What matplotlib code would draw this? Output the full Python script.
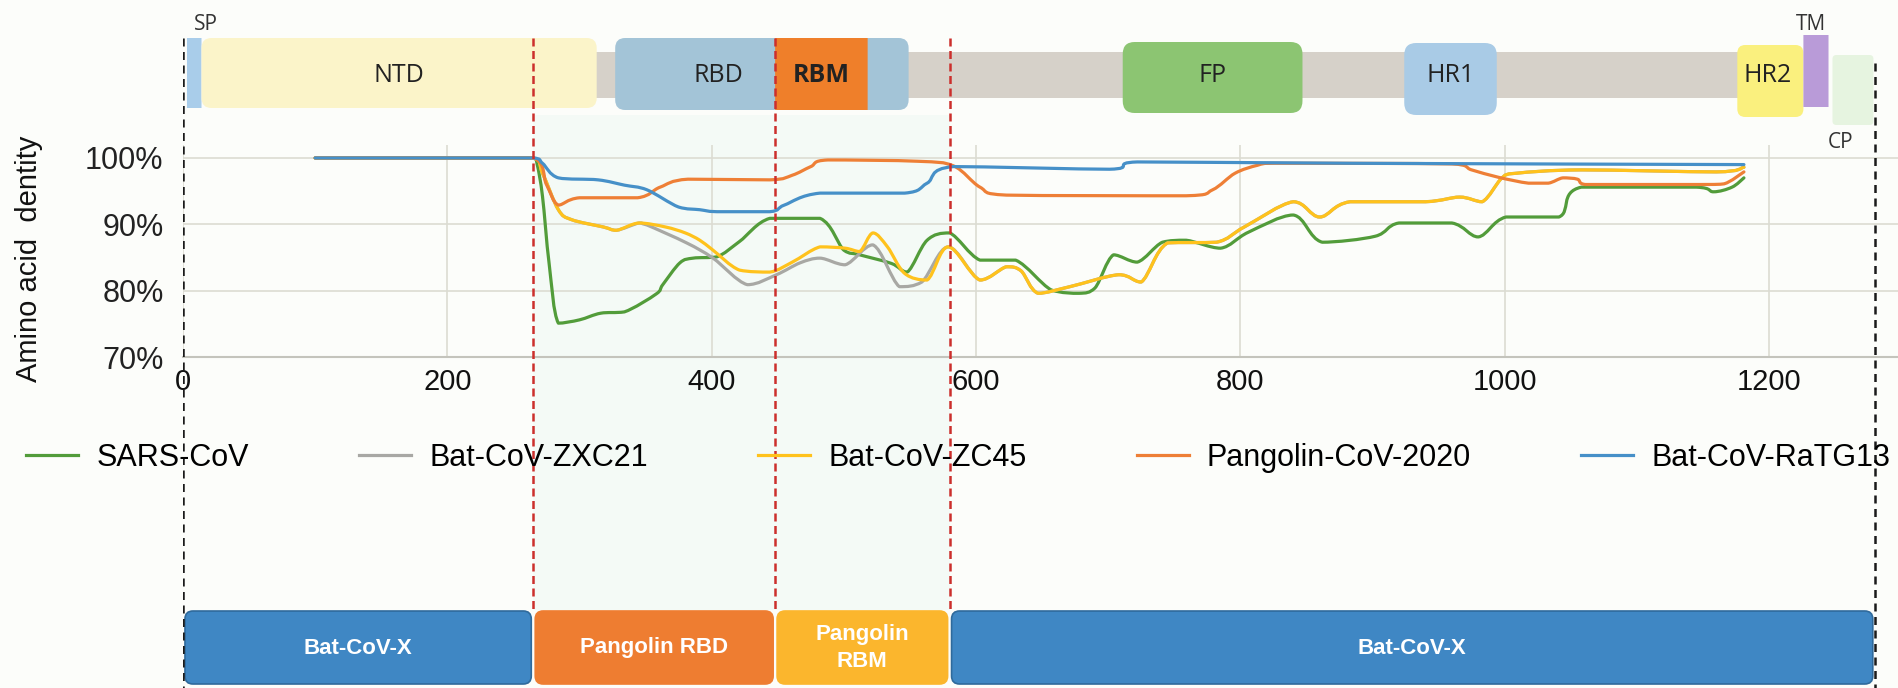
import matplotlib.pyplot as plt
from matplotlib.patches import FancyBboxPatch, Rectangle, PathPatch
from matplotlib.path import Path
from matplotlib.lines import Line2D

# ---- identity curves along the spike protein (residue position, % identity) ----
sars_x = [100, 265, 268, 272, 277, 284, 300, 316, 334, 358, 363, 376, 386, 404, 421, 444, 482, 500,
          512, 536, 548, 563, 580, 603, 630, 657, 678, 690, 704, 722, 741, 759, 785, 806, 840, 862,
          902, 920, 960, 980, 1001, 1041, 1058, 1145, 1158, 1172, 1181]
sars_y = [100, 100, 99, 94.2, 84.1, 75.1, 75.6, 76.6, 76.8, 79.5, 80.9, 84.2, 84.9, 85.1, 87.4, 90.9,
          90.9, 86.1, 85.4, 84.1, 82.8, 87.6, 88.7, 84.6, 84.6, 80.1, 79.6, 80.4, 85.4, 84.3, 87.3,
          87.6, 86.4, 88.8, 91.4, 87.3, 88.2, 90.2, 90.2, 88.1, 91.1, 91.1, 95.6, 95.6, 94.9, 95.6, 97]

zxc21_x = [100, 265, 272, 284, 294, 318, 328, 345, 351, 381, 401, 427, 449, 467, 482, 501, 522, 542,
           559, 579, 603, 623, 634, 647, 671, 708, 725, 745, 782, 803, 840, 860, 883, 940, 966, 983,
           998, 1009, 1058, 1160, 1181]
zxc21_y = [100, 100, 97.7, 92.2, 90.7, 89.6, 89.1, 90.2, 89.9, 87.2, 84.9, 80.9, 82.4, 84.2, 84.9,
           83.9, 86.9, 80.6, 81.3, 86.6, 81.6, 83.6, 83, 79.6, 80.6, 82.4, 81.3, 87.2, 87.3, 89.6,
           93.4, 91.1, 93.4, 93.4, 94.1, 93.4, 97, 97.7, 98.2, 97.9, 98.6]

zc45_x = [100, 265, 272, 284, 294, 318, 328, 345, 365, 380, 391, 401, 421, 444, 461, 482, 501, 512,
          522, 533, 546, 563, 579, 603, 623, 634, 647, 671, 708, 725, 745, 782, 803, 840, 860, 883,
          940, 966, 983, 998, 1009, 1058, 1160, 1181]
zc45_y = [100, 100, 97.7, 92.2, 90.7, 89.6, 89.1, 90.2, 89.6, 88.7, 87.6, 86.1, 83.1, 82.8, 84.3,
          86.6, 86.4, 85.9, 88.7, 86.6, 82.6, 81.6, 86.6, 81.6, 83.6, 83, 79.6, 80.6, 82.4, 81.3,
          87.2, 87.3, 89.6, 93.4, 91.1, 93.4, 93.4, 94.1, 93.4, 97, 97.7, 98.2, 97.9, 98.6]

pang_x = [100, 265, 275, 284, 300, 344, 361, 382, 444, 461, 475, 488, 556, 583, 603, 623, 759, 779,
          796, 813, 826, 960, 975, 995, 1018, 1033, 1044, 1055, 1061, 1148, 1166, 1181]
pang_y = [100, 100, 96, 92.9, 94, 94, 95.6, 96.8, 96.7, 97.4, 98.7, 99.7, 99.5, 98.8, 95.6, 94.4,
          94.3, 95.2, 97.7, 98.9, 99.2, 99.1, 98.2, 97.1, 96.2, 96.2, 97, 96.8, 96.0, 96.0, 96.1, 97.9]

ratg_x = [100, 265, 272, 284, 314, 334, 351, 375, 391, 404, 444, 455, 482, 546, 563, 583, 701, 722,
          883, 1181]
ratg_y = [100, 100, 99.2, 97, 96.7, 95.9, 95.2, 92.6, 92.2, 91.9, 91.9, 92.9, 94.7, 94.7, 96.2,
          98.7, 98.3, 99.4, 99.2, 99.0]

series_names = ['SARS-CoV', 'Bat-CoV-ZXC21', 'Bat-CoV-ZC45', 'Pangolin-CoV-2020', 'Bat-CoV-RaTG13']
series_x = [sars_x, zxc21_x, zc45_x, pang_x, ratg_x]
series_y = [sars_y, zxc21_y, zc45_y, pang_y, ratg_y]
series_colors = ['#529c3a', '#a8a8a4', '#ffc21c', '#ee7f36', '#4690c8']

# ---- spike domains (start, end in residues) ----
dom_names = ['SP', 'NTD', 'RBD', 'RBM', 'FP', 'HR1', 'HR2', 'TM', 'CP']
dom_start = [3, 14, 327, 448, 711, 924, 1176, 1226, 1248]
dom_end = [14, 313, 549, 518, 847, 994, 1226, 1245, 1279]
backbone = (300, 1200)

# ---- recombination segments ----
seg_edges = [0, 265, 448, 580, 1280]
seg_names = ['Bat-CoV-X', 'Pangolin RBD', 'Pangolin\nRBM', 'Bat-CoV-X']

plt.rcParams['font.family'] = ['Liberation Sans', 'DejaVu Sans']

W, H = 1898, 688
PX = 1.3217          # pixels per residue
X0 = 183             # pixel column of residue 0
fig = plt.figure(figsize=(W / 100, H / 100), dpi=100, facecolor='#fcfdfa')
left = X0 / W
xmax = (W - X0) / PX


def smooth_path(xs, ys):
    # cubic bezier through the points (catmull-rom tangents, clamped so curves don't overshoot)
    verts = [(xs[0], ys[0])]
    codes = [Path.MOVETO]
    n = len(xs)
    for i in range(n - 1):
        xa, ya = xs[max(i - 1, 0)], ys[max(i - 1, 0)]
        x1, y1 = xs[i], ys[i]
        x2, y2 = xs[i + 1], ys[i + 1]
        xb, yb = xs[min(i + 2, n - 1)], ys[min(i + 2, n - 1)]
        lo, hi = min(y1, y2), max(y1, y2)
        c1x = min(max(x1 + (x2 - xa) / 6, x1), x2)
        c1y = min(max(y1 + (y2 - ya) / 6, lo), hi)
        c2x = min(max(x2 - (xb - x1) / 6, x1), x2)
        c2y = min(max(y2 - (yb - y1) / 6, lo), hi)
        verts += [(c1x, c1y), (c2x, c2y), (x2, y2)]
        codes += [Path.CURVE4] * 3
    return Path(verts, codes)


# background layer (faint band between the red boundaries)
bg = fig.add_axes([left, 0, 1 - left, 1])
bg.set_xlim(0, xmax)
bg.set_ylim(H, 0)
bg.axis('off')
bg.add_patch(Rectangle((seg_edges[1], 115), seg_edges[3] - seg_edges[1], 495,
                       fc='#f4faf6', ec='none'))

# ---- main identity plot ----
ax = fig.add_axes([left, 0.4811, 1 - left, 0.3086])
ax.patch.set_visible(False)
for xs, ys, c in zip(series_x, series_y, series_colors):
    ax.add_patch(PathPatch(smooth_path(xs, ys), fc='none', ec=c, lw=2.3,
                           joinstyle='round', capstyle='round'))

ax.set_xlim(0, xmax)
ax.set_ylim(70, 102)
ax.set_xticks(range(0, 1201, 200))
ax.set_yticks([70, 80, 90, 100])
ax.set_yticklabels([f'{v}%' for v in [70, 80, 90, 100]])
ax.tick_params(axis='y', length=0, pad=14, labelsize=22, labelcolor='#222222')
ax.tick_params(axis='x', length=0, pad=8, labelsize=21, labelcolor='#111111')
ax.grid(True, color='#dcdcd2', lw=1.2)
ax.set_axisbelow(True)
for s in ['top', 'right', 'left']:
    ax.spines[s].set_visible(False)
ax.spines['bottom'].set_color('#c4c4bc')
ax.spines['bottom'].set_linewidth(1.5)
ax.set_ylabel('Amino acid  dentity', fontsize=21, color='#111111')
ax.yaxis.set_label_coords(-0.0816, 0.4616)

handles = [Line2D([], [], color=c, lw=2.3) for c in series_colors]
fig.legend(handles, series_names, loc='center', bbox_to_anchor=(0.505, 1 - 458 / H), ncol=5,
           frameon=False, fontsize=22, handlelength=1.7, handletextpad=0.6, columnspacing=3.6)

# ---- overlay: domain map, segment bar and boundary lines ----
ov = fig.add_axes([left, 0, 1 - left, 1])
ov.set_xlim(0, xmax)
ov.set_ylim(H, 0)
ov.axis('off')
ov.patch.set_visible(False)


def rbox(x0, x1, y0, y1, color, r=8, **kw):
    p = FancyBboxPatch((x0, y0), x1 - x0, y1 - y0,
                       boxstyle=f'round,pad=0,rounding_size={r / PX}',
                       mutation_aspect=PX, fc=color, **kw)
    ov.add_patch(p)


rbox(backbone[0], backbone[1], 52, 98, '#d6d1c9', r=0, ec='none')

dom_colors = ['#a9cdea', '#fbf4c9', '#a3c4d7', '#ef7f2a', '#8cc572', '#a9cbe6', '#faf07e',
              '#b99bd8', '#e6f4e0']
dom_y = [(38, 108), (38, 108), (38, 110), (38, 110), (42, 113), (43, 115), (45, 117), (35, 107),
         (55, 125)]
dom_r = [0, 10, 10, 0, 12, 12, 8, 0, 4]
for n, s, e, c, (y0, y1), r in zip(dom_names, dom_start, dom_end, dom_colors, dom_y, dom_r):
    rbox(s, e, y0, y1, c, r=r, ec='none')

lab_font = ['Open Sans', 'DejaVu Sans']
inside = {'NTD': 163, 'RBD': 405, 'RBM': 483, 'FP': 779, 'HR1': 959, 'HR2': 1199}
for n, xc in inside.items():
    ov.text(xc, 76, n, ha='center', va='center', fontsize=18, family=lab_font,
            color='#222222', fontweight='bold' if n == 'RBM' else 'normal')
ov.text(dom_start[0] + 14, 25, 'SP', ha='center', va='center', fontsize=15, family=lab_font,
        color='#333333')
ov.text(1232, 24, 'TM', ha='center', va='center', fontsize=15, family=lab_font, color='#333333')
ov.text(1254, 143, 'CP', ha='center', va='center', fontsize=15, family=lab_font, color='#333333')

seg_colors = ['#3f87c4', '#ee7d31', '#fbb62d', '#3f87c4']
for i, (n, c) in enumerate(zip(seg_names, seg_colors)):
    a, b = seg_edges[i] + 1.5, seg_edges[i + 1] - 1.5
    rbox(a, b, 611, 684, c, r=8, ec='#2f6a9c' if c == '#3f87c4' else c, lw=1.2)
    ov.text((a + b) / 2, 648, n, ha='center', va='center', fontsize=16, fontweight='bold',
            color='white', linespacing=1.35)

# boundary lines
for xb in (seg_edges[0], seg_edges[-1]):
    top = 38 if xb == seg_edges[0] else 63
    ov.plot([xb, xb], [top, H], color='#1a1a1a', lw=1.8, dashes=(3.2, 2.2))
for xb in seg_edges[1:-1]:
    ov.plot([xb, xb], [38, 612], color='#cc2f2c', lw=1.8, dashes=(3.2, 1.8))

fig.savefig('out.png', dpi=100, facecolor=fig.get_facecolor())
